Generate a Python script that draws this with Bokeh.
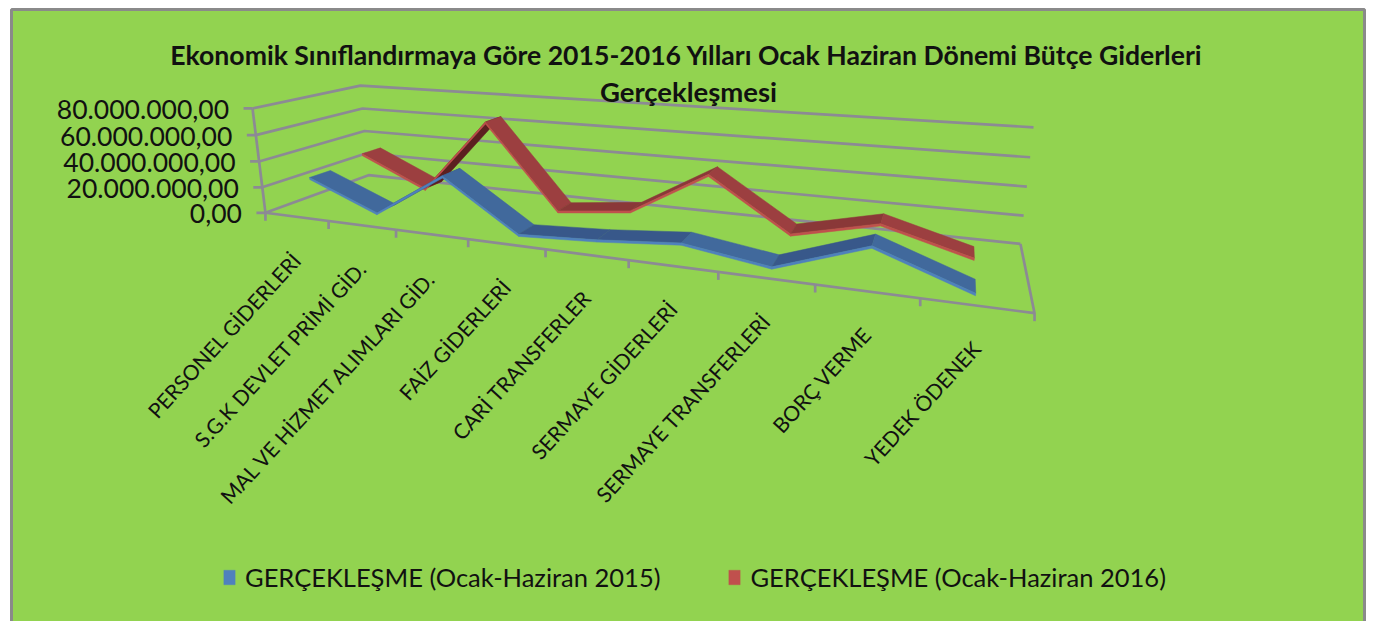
import numpy as np
from bokeh.plotting import figure
from bokeh.models import Range1d, Legend, LegendItem
from bokeh.core.properties import value
from bokeh.embed import file_html
from bokeh.resources import INLINE

TITLE_1 = "Ekonomik Sınıflandırmaya Göre 2015-2016 Yılları Ocak Haziran Dönemi Bütçe Giderleri"
TITLE_2 = "Gerçekleşmesi"
CATEGORIES = ["PERSONEL GİDERLERİ", "S.G.K DEVLET PRİMİ GİD.", "MAL VE HİZMET ALIMLARI GİD.",
              "FAİZ GİDERLERİ", "CARİ TRANSFERLER", "SERMAYE GİDERLERİ",
              "SERMAYE TRANSFERLERİ", "BORÇ VERME", "YEDEK ÖDENEK"]
SERIES_2015_NAME = "GERÇEKLEŞME (Ocak-Haziran 2015)"
SERIES_2016_NAME = "GERÇEKLEŞME (Ocak-Haziran 2016)"
VALUES_2015 = [26.0, 4.5, 38.0, 1.5, 4.5, 9.5, 1.0, 22.0, 0.5]   # millions
VALUES_2016 = [31.0, 7.0, 65.5, 0.7, 7.0, 40.0, 3.0, 17.0, 0.5]  # millions
TICKS = [0, 20, 40, 60, 80]
TICK_LABELS = ["0,00", "20.000.000,00", "40.000.000,00", "60.000.000,00", "80.000.000,00"]
VMAX = 80.0

# camera: unit box corners -> page pixels
CAMERA = [((0,0,0),(265,212)),((1,0,0),(1034,313)),((0,1,0),(368,175)),((1,1,0),(1020,243)),
          ((0,0,1),(252,108)),((0,1,1),(360,85)),((1,1,1),(1033,127))]
A, b = [], []
for (X,Y,Z),(x,y) in CAMERA:
    A.append([X,Y,Z,1,0,0,0,0,-x*X,-x*Y,-x*Z]); b.append(x)
    A.append([0,0,0,0,X,Y,Z,1,-y*X,-y*Y,-y*Z]); b.append(y)
P = np.linalg.lstsq(np.array(A,float), np.array(b,float), rcond=None)[0]
def proj(u, w, v):
    z = v / VMAX
    d = P[8]*u + P[9]*w + P[10]*z + 1
    return float((P[0]*u+P[1]*w+P[2]*z+P[3])/d), float((P[4]*u+P[5]*w+P[6]*z+P[7])/d)

n = len(CATEGORIES)
p = figure(width=1381, height=621, output_backend="svg", toolbar_location=None,
           x_range=Range1d(0,1381), y_range=Range1d(621,0), min_border=0,
           background_fill_color="white", border_fill_color="white", outline_line_color=None)
p.xaxis.visible = False; p.yaxis.visible = False; p.grid.visible = False

GREEN="#92D350"; GREY="#8C8A94"
p.quad(left=[11],right=[1364],top=[9],bottom=[640],fill_color=GREEN,line_color="#8A8A8A",line_width=3)

# gridlines
xs, ys = [], []
for t in TICKS:
    a,b_,c = proj(0,0,t),proj(0,1,t),proj(1,1,t)
    xs.append([a[0],b_[0],c[0]]); ys.append([a[1],b_[1],c[1]])
    xs.append([a[0]-9,a[0]]); ys.append([a[1],a[1]])
f0,f1 = proj(0,0,0),proj(0,0,VMAX)
xs.append([f0[0],f1[0]]); ys.append([f0[1],f1[1]])
r0,r1,r2 = proj(0,0,0),proj(1,0,0),proj(1,1,0)
xs.append([r0[0],r1[0],r2[0]]); ys.append([r0[1],r1[1],r2[1]])
for i in range(n+1):
    q = proj(i/n,0,0)
    xs.append([q[0],q[0]]); ys.append([q[1],q[1]+8])
p.multi_line(xs,ys,line_color=GREY,line_width=2.7)

def ribbon(vals, w0, w1, mid, dim, under, bright):
    px,py,cols,sx,sy=[],[],[],[],[]
    for i in range(n-1):
        u0,u1=(i+.5)/n,(i+1.5)/n
        a,b2,c,d = proj(u0,w0,vals[i]),proj(u1,w0,vals[i+1]),proj(u1,w1,vals[i+1]),proj(u0,w1,vals[i])
        area=(b2[0]-a[0])*(d[1]-a[1])-(b2[1]-a[1])*(d[0]-a[0])
        col = under if area>0 else (dim if vals[i+1]>=vals[i] else mid)
        px.append([a[0],b2[0],c[0],d[0]]); py.append([a[1],b2[1],c[1],d[1]]); cols.append(col)
        e,f = proj(u1,w0,vals[i+1]-1.6),proj(u0,w0,vals[i]-1.6)
        sx.append([a[0],b2[0],e[0],f[0]]); sy.append([a[1],b2[1],e[1],f[1]])
    p.patches(px,py,fill_color=cols,line_color=cols,line_width=0.5)
    return p.patches(sx,sy,fill_color=bright,line_color=bright,line_width=0.5)

r16 = ribbon(VALUES_2016,.655,.85,"#9C3F40","#8A3838","#5C2020","#C0504D")
r15 = ribbon(VALUES_2015,.145,.335,"#41699C","#38588A","#2F4D78","#4F81BD")

FONT=value("Lato")
p.text([686],[54],text=[TITLE_1],text_font=FONT,text_font_style="bold",text_font_size="26.6px",text_align="center",text_baseline="middle",text_color="#111111")
p.text([688],[91],text=[TITLE_2],text_font=FONT,text_font_style="bold",text_font_size="27.5px",text_align="center",text_baseline="middle",text_color="#111111")

tx=[proj(0,0,t)[0]-23.5 for t in TICKS]; ty=[proj(0,0,t)[1]+1 for t in TICKS]
p.text(tx,ty,text=TICK_LABELS,text_font=FONT,text_font_size="26.5px",text_align="right",text_baseline="middle",text_color="#111111")

cx=[proj((i+.5)/n,0,0)[0]+0 for i in range(n)]
cy=[proj((i+.5)/n,0,0)[1]+39 for i in range(n)]
p.text(cx,cy,text=CATEGORIES,text_font=FONT,text_font_size="21px",text_align="right",text_baseline="middle",angle=np.radians(47.5),text_color="#111111")

leg=Legend(items=[LegendItem(label=SERIES_2015_NAME,renderers=[r15]),LegendItem(label=SERIES_2016_NAME,renderers=[r16])],
           orientation="horizontal",location=(222,29),glyph_width=14,glyph_height=18,label_standoff=9,spacing=67,
           padding=0,margin=0,background_fill_alpha=0,border_line_alpha=0,
           label_text_font="Lato",label_text_font_size="25.5px",label_text_color="#111111",label_height=30)
p.add_layout(leg,"center")

open("out.html","w").write(file_html(p,INLINE))
